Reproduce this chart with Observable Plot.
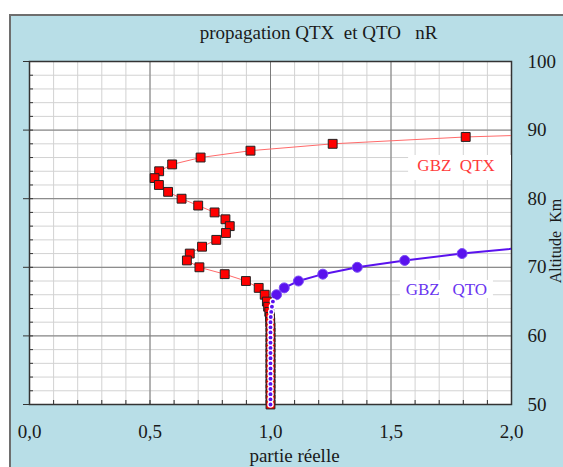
<!DOCTYPE html>
<html>
<head>
<meta charset="utf-8">
<script src="https://cdn.jsdelivr.net/npm/d3@7"></script>
<script src="https://cdn.jsdelivr.net/npm/@observablehq/plot@0.6"></script>
<style>
  html, body { margin: 0; padding: 0; background: white; overflow: hidden; }
  #wrap { position: relative; width: 563px; height: 467px; }
  #panel { position: absolute; left: 9px; top: 14px; width: 600px; height: 500px;
           background: #b8dee7; border-left: 2px solid #6e6e6e; border-top: 2px solid #6e6e6e; box-sizing: border-box; }
  #chart { position: absolute; left: 0; top: 0; }
  #chart svg, #chart svg text { font-family: "Liberation Serif", "DejaVu Serif", serif !important; }
</style>
</head>
<body>
<div id="wrap"><div id="panel"></div><div id="chart"></div></div>
<script>
// ---- data ----
const titleText = "propagation QTX\u00a0 et QTO\u00a0\u00a0 nR";
const xLabel = "partie réelle";
const yLabel = "Altitude\u00a0 Km";
const xMajor = [0, 0.5, 1, 1.5, 2];
const xTickLabels = ["0,0", "0,5", "1,0", "1,5", "2,0"];
const xMinor = [0,0.1,0.2,0.3,0.4,0.5,0.6,0.7,0.8,0.9,1,1.1,1.2,1.3,1.4,1.5,1.6,1.7,1.8,1.9,2];
const yMajor = [50, 60, 70, 80, 90, 100];
const yTickLabels = ["50", "60", "70", "80", "90", "100"];
const yMinor = [50,52,54,56,58,60,62,64,66,68,70,72,74,76,78,80,82,84,86,88,90,92,94,96,98,100];

// QTX (upper part, altitude km / real part)
const qtxAlt = [90,89,88,87,86,85,84,83,82,81,80,79,78,77,76,75,74,73,72,71,70,69,68,67,66];
const qtxRe  = [2.75,1.81,1.258,0.917,0.71,0.592,0.538,0.519,0.537,0.575,0.631,0.70,0.768,0.813,0.831,0.815,0.775,0.716,0.665,0.653,0.705,0.81,0.898,0.951,0.976];
// QTO (upper part)
const qtoAlt = [73,72,71,70,69,68,67,66];
const qtoRe  = [2.09,1.795,1.557,1.36,1.217,1.116,1.057,1.025];
// lower column (both series near 1.0)
const colAlt   = [65,64.25,63.5,62.75,62,61.25,60.5,59.75,59,58.25,57.5,56.75,56,55.25,54.5,53.75,53,52.25,51.5,50.75,50];
const colQtxRe = [0.985,0.99,0.995,0.998,0.999,1,1,1,1,1,1,1,1,1,1,1,1,1,1,1,1];
const colQtoRe = [1.01,1.006,1.003,1.001,1,1,1,1,1,1,1,1,1,1,1,1,1,1,1,1,1];

// label annotations
const qtxLabel = "GBZ\u00a0 QTX";
const qtoLabel = "GBZ\u00a0\u00a0 QTO";

// ---- build ----
const qtx = qtxAlt.map((a, i) => ({alt: a, re: qtxRe[i]}))
  .concat(colAlt.map((a, i) => ({alt: a, re: colQtxRe[i]})));
const qtoUpper = qtoAlt.map((a, i) => ({alt: a, re: qtoRe[i]}));
const qtoCol = colAlt.map((a, i) => ({alt: a, re: colQtoRe[i]}));
const qto = qtoUpper.concat(qtoCol);
const inDomain = d => d.re <= 2;

const red = "#ff0000", redLine = "#ff6a6a", blue = "#5a12ee";
const serif = "'Liberation Serif', 'DejaVu Serif', serif";

const chart = Plot.plot({
  width: 563, height: 467,
  marginLeft: 29, marginRight: 52, marginTop: 61, marginBottom: 63,
  x: {domain: [0, 2]},
  y: {domain: [50, 100]},
  style: {background: "transparent", fontFamily: serif, fontSize: "19px", color: "#1a1a1a", overflow: "visible"},
  marks: [
    Plot.frame({fill: "white"}),
    Plot.gridX(xMinor, {stroke: "#d2d2d2", strokeOpacity: 1}),
    Plot.gridY(yMinor, {stroke: "#d2d2d2", strokeOpacity: 1}),
    Plot.gridX(xMajor, {stroke: "#7a7a7a", strokeOpacity: 1}),
    Plot.gridY(yMajor, {stroke: "#7a7a7a", strokeOpacity: 1}),
    Plot.tickX(xMinor, {x: d => d, insetTop: 339, stroke: "#333"}),
    Plot.tickY(yMinor, {y: d => d, insetRight: 478, stroke: "#333"}),
    Plot.axisY({anchor: "left", ticks: yMajor, tickSize: 6, tickFormat: () => "", label: null, stroke: "#333"}),
    Plot.axisY({anchor: "right", ticks: yMajor, tickSize: 0, tickPadding: 16, label: null,
      tickFormat: d => yTickLabels[yMajor.indexOf(d)], fill: "#1a1a1a", fontFamily: serif, fontSize: 19}),
    Plot.axisX({anchor: "bottom", ticks: xMajor, tickSize: 0, tickPadding: 20, label: null,
      tickFormat: d => xTickLabels[xMajor.indexOf(d)], fill: "#1a1a1a", fontFamily: serif, fontSize: 19}),
    Plot.frame({stroke: "#333", strokeWidth: 1.5}),
    // labels with white boxes
    Plot.rect([0], {x1: 1.573, x2: 2.0, y1: 82.65, y2: 86.3, fill: "white"}),
    Plot.text([qtxLabel], {x: 1.77, y: 84.84, text: d => d, fill: "#ff3b3b", fontSize: 17, fontFamily: serif}),
    Plot.rect([0], {x1: 1.539, x2: 1.925, y1: 65.45, y2: 68.08, fill: "white"}),
    Plot.text([qtoLabel], {x: 1.73, y: 66.76, text: d => d, fill: "#6a35f0", fontSize: 17, fontFamily: serif}),
    // title and axis titles
    Plot.text([titleText], {frameAnchor: "top", lineAnchor: "middle", dx: 48, dy: -29, text: d => d, fill: "#1a1a1a", fontSize: 19, fontFamily: serif}),
    Plot.text([xLabel], {frameAnchor: "bottom", lineAnchor: "middle", dx: 24, dy: 51, text: d => d, fill: "#1a1a1a", fontSize: 19, fontFamily: serif}),
    Plot.text([yLabel], {frameAnchor: "right", lineAnchor: "middle", textAnchor: "middle", dx: 44, dy: 8, rotate: -90, text: d => d, fill: "#1a1a1a", fontSize: 16, fontFamily: serif}),
    // QTX series
    Plot.line(qtx, {x: "re", y: "alt", stroke: redLine, strokeWidth: 1, clip: true}),
    Plot.dot(qtx, {filter: inDomain, x: "re", y: "alt", symbol: "square", r: 5, fill: red, stroke: "#222", strokeWidth: 1}),
    // QTO series
    Plot.line(qto, {x: "re", y: "alt", stroke: blue, strokeWidth: 2, clip: true}),
    Plot.dot(qtoUpper, {filter: inDomain, x: "re", y: "alt", r: 5, fill: blue, stroke: "#7a4cf5", strokeWidth: 1}),
    Plot.dot(qtoCol, {x: "re", y: "alt", r: 2.6, fill: blue, stroke: "white", strokeWidth: 1.3})
  ]
});
document.getElementById("chart").appendChild(chart);
</script>
</body>
</html>
